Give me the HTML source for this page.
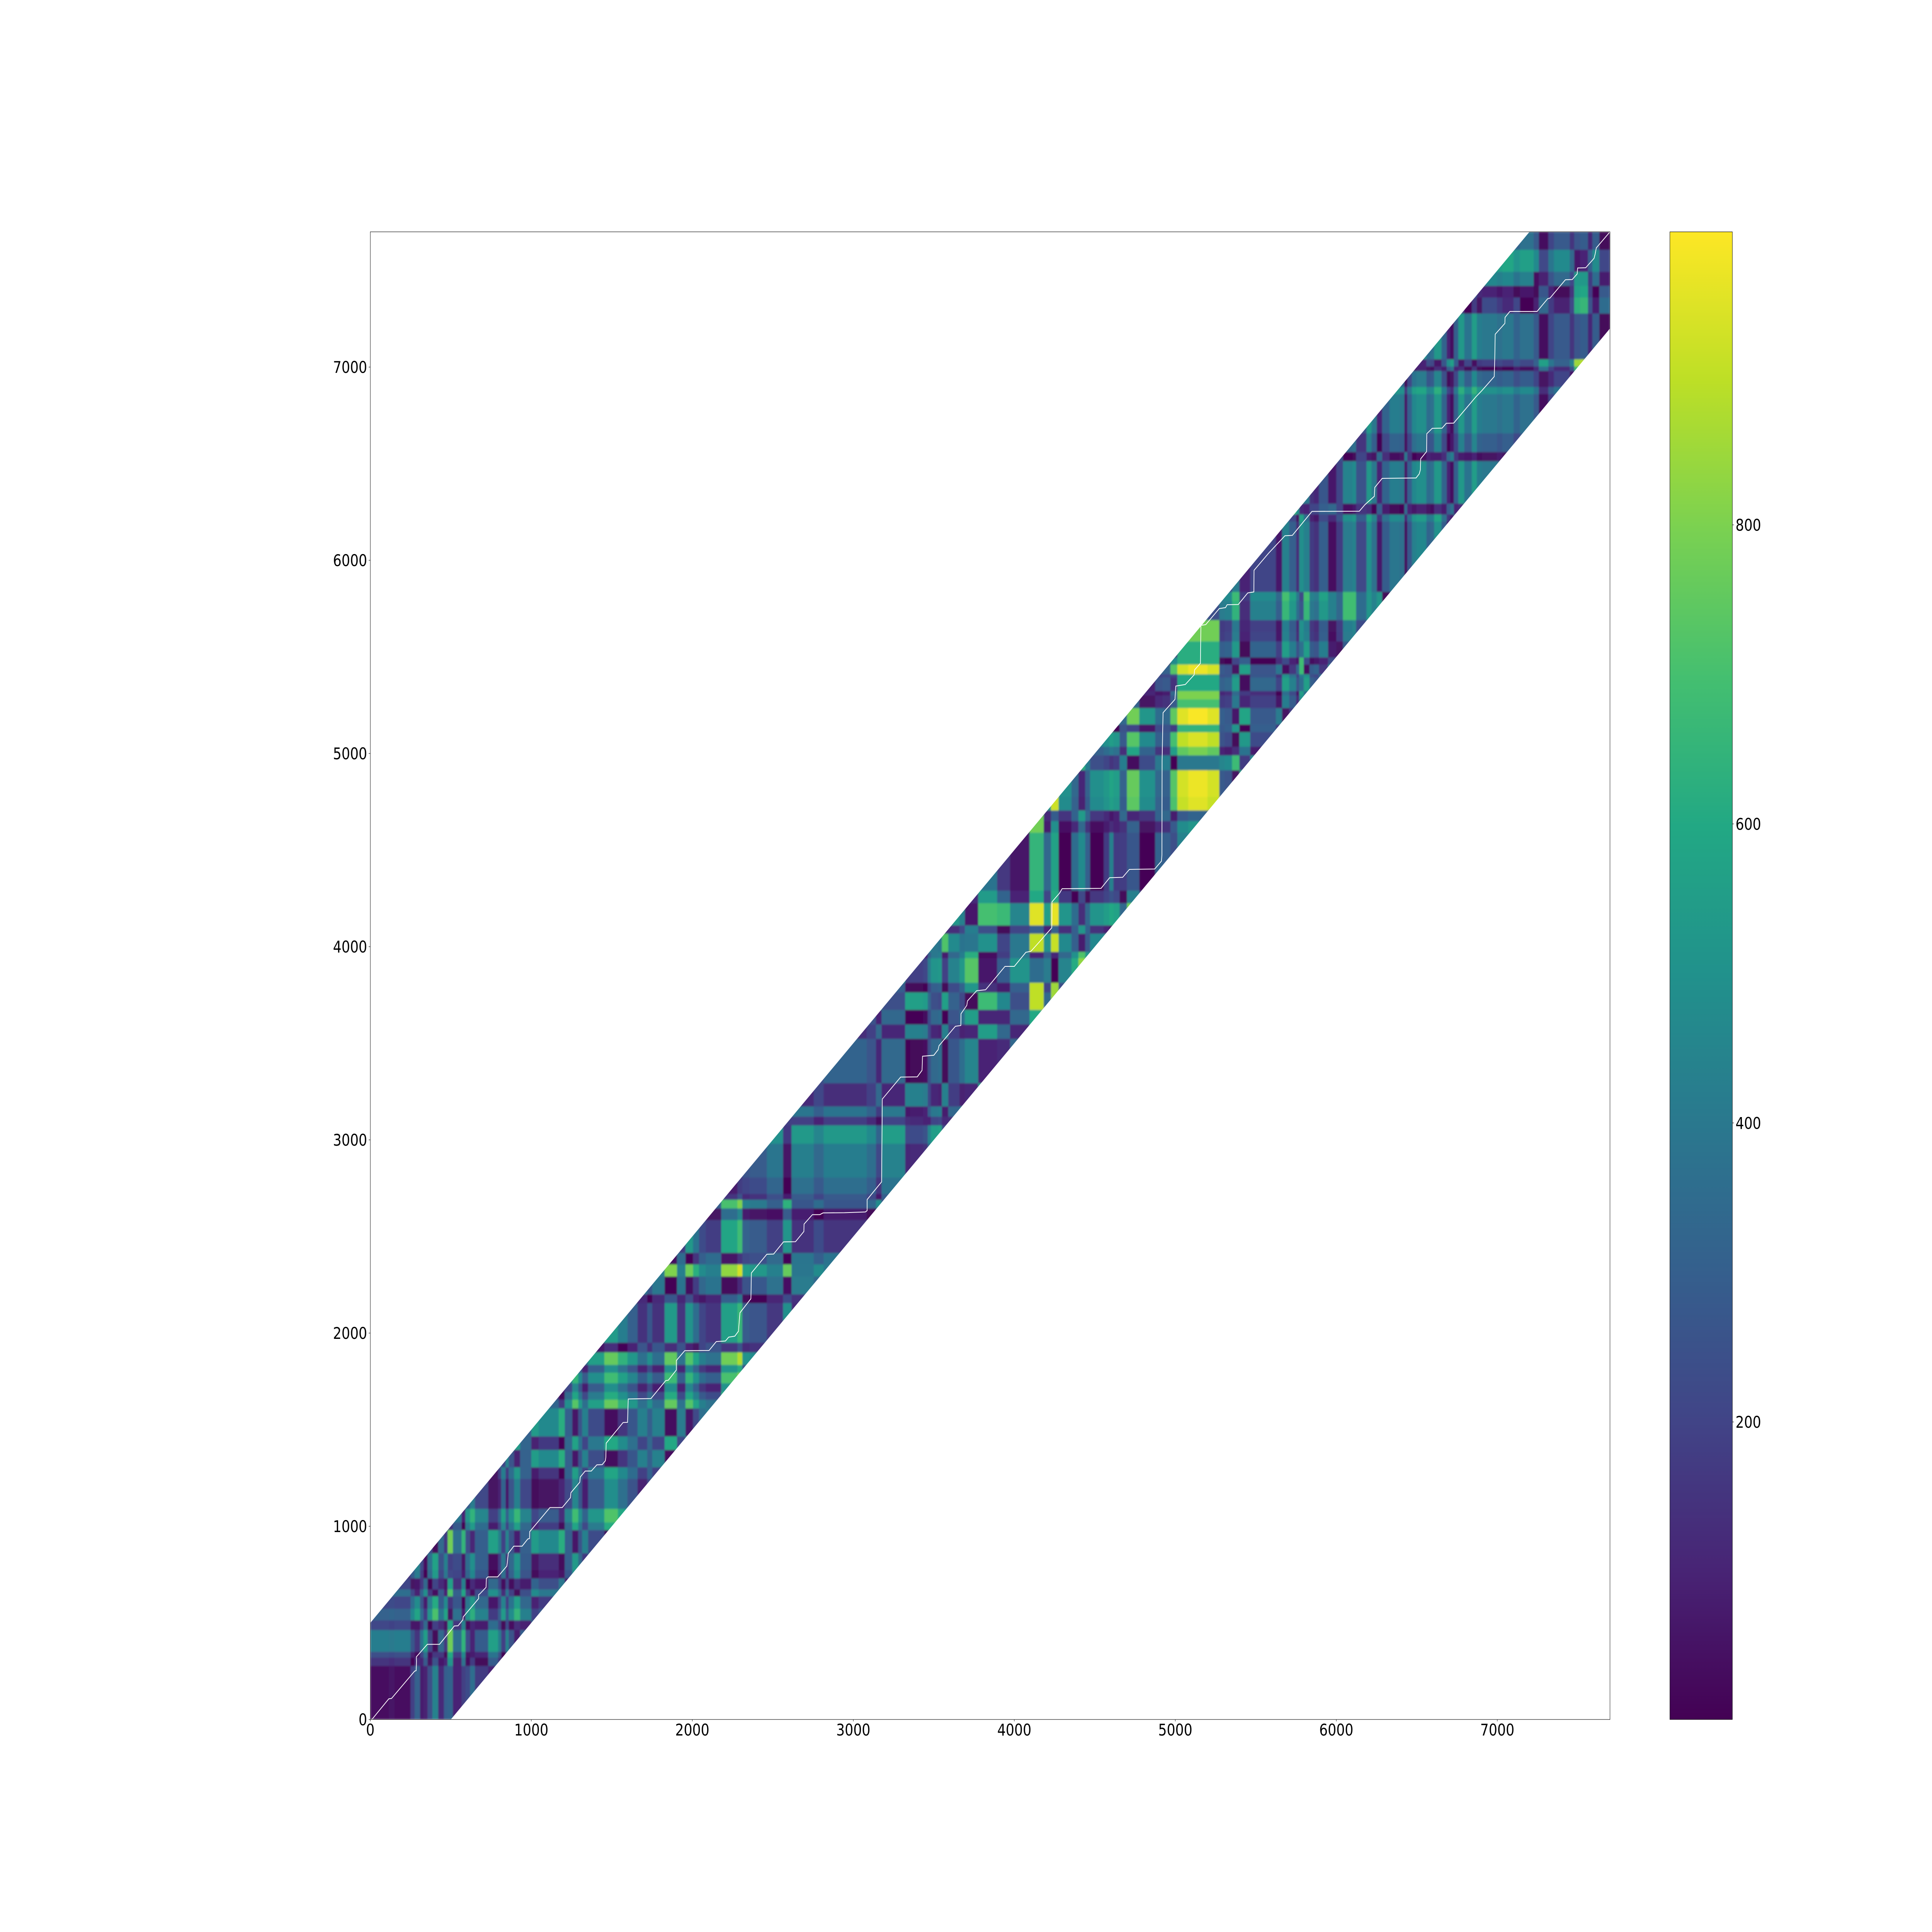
<!DOCTYPE html>
<html lang="en">
<head>
<meta charset="utf-8">
<title>Alignment cost matrix</title>
<style>
html,body{margin:0;padding:0;background:#fff;width:100%;height:100%;overflow:hidden}
svg{display:block;width:100vw;height:100vh}
text{font-family:"DejaVu Sans","Liberation Sans",sans-serif;font-size:41.67px;fill:#000}
</style>
</head>
<body>
<svg id="chart" xmlns="http://www.w3.org/2000/svg" viewBox="0 0 6000 5000" preserveAspectRatio="none">
<defs>
<linearGradient id="viridis-gradient" x1="0" y1="1" x2="0" y2="0"></linearGradient>
<clipPath id="band-clip"><polygon id="band-polygon" points=""></polygon></clipPath>
<filter id="soften" x="-2%" y="-2%" width="104%" height="104%"><feGaussianBlur stdDeviation="2"></feGaussianBlur></filter>
</defs>
<rect x="0" y="0" width="6000" height="5000" fill="#fff"></rect>
<g id="heatmap-clip-group" clip-path="url(#band-clip)"><g id="heatmap" filter="url(#soften)"></g></g>
<path id="warp-path" fill="none" stroke="#fff" stroke-width="2.1" stroke-linejoin="round"></path>
<rect id="plot-frame" fill="none" stroke="#000" stroke-width="1.1"></rect>
<g id="x-axis"></g>
<g id="y-axis"></g>
<rect id="colorbar" fill="url(#viridis-gradient)" stroke="#000" stroke-width="1.1"></rect>
<g id="colorbar-axis"></g>
</svg>
<script>
// ---- chart data ----
const xTicks = [0,1000,2000,3000,4000,5000,6000,7000];
const yTicks = [0,1000,2000,3000,4000,5000,6000,7000];
const colorbarTicks = [200,400,600,800];
const valueMin = 1;
const valueMax = 996;
const axisMax = 7700;
const bandRadius = 500;

// feature signal along the x sequence: segment starts and levels
const colBreaks = [0,115,150,250,275,309,330,355,385,421,457,480,513,567,591,620,650,732,793,813,840,860,893,930,1000,1045,1170,1208,1254,1292,1315,1353,1453,1537,1598,1660,1720,1751,1828,1905,1958,2004,2042,2084,2180,2280,2310,2356,2463,2563,2616,2754,2815,3083,3141,3175,3322,3353,3433,3462,3481,3527,3550,3590,3659,3693,3775,3893,3973,4095,4182,4228,4275,4355,4398,4440,4470,4555,4590,4615,4654,4700,4776,4875,4920,4970,5013,5080,5200,5273,5307,5352,5398,5465,5625,5663,5708,5751,5770,5797,5833,5861,5892,5949,6000,6041,6101,6123,6188,6219,6251,6285,6330,6393,6423,6441,6469,6497,6560,6585,6608,6653,6685,6707,6730,6757,6795,6842,6873,6905,6998,7031,7101,7140,7225,7258,7317,7351,7450,7477,7513,7563,7590,7633];
const colSignal = [40,55,40,190,310,80,-90,240,440,120,300,-320,100,-185,225,360,170,-100,40,270,20,210,380,160,-75,0,-155,165,405,215,35,235,435,315,200,40,165,35,430,50,400,250,100,50,455,555,180,155,55,385,15,100,20,80,230,0,330,320,300,100,0,-20,320,70,-20,-220,440,220,0,500,100,510,65,-100,-320,-120,60,100,150,120,-120,330,70,-100,-120,300,500,540,500,-150,-170,-380,130,-170,-40,-400,-270,-100,520,-400,-140,-110,-270,70,200,440,470,250,530,400,100,320,420,400,60,300,460,490,350,370,530,320,100,30,300,530,380,550,420,400,370,400,320,370,280,30,200,280,150,-260,-290,110,290,20];

// feature signal along the y sequence: segment starts and levels
const rowBreaks = [0,277,320,350,463,513,573,637,673,730,773,860,980,1020,1090,1245,1305,1395,1465,1610,1655,1695,1740,1795,1835,1900,1950,2155,2200,2293,2355,2415,2585,2645,2690,2720,2805,2980,3075,3120,3173,3293,3523,3597,3673,3763,3813,3940,3973,4067,4110,4225,4290,4590,4650,4705,4775,4913,4990,5035,5110,5150,5235,5280,5300,5323,5393,5410,5460,5497,5580,5630,5690,5790,5836,6200,6237,6293,6513,6560,6657,6860,6897,6980,7003,7040,7277,7360,7420,7493,7607];
const rowSignal = [0,190,280,460,250,-270,-170,400,240,-100,-130,465,-180,-285,-50,-150,470,-165,465,-325,-180,-50,-250,-60,-325,300,-105,160,430,-375,400,-130,100,-250,300,380,440,550,200,400,-110,340,-110,330,-240,300,510,400,-400,200,-450,-100,60,20,220,-410,-430,300,-250,-400,130,-450,20,20,-40,160,100,-430,-170,150,30,20,260,300,30,-50,400,0,450,100,0,-100,80,400,590,0,370,300,-60,-190,0];

// blocks read directly where the two signals alone do not reproduce the colour
const patchX0 = [4095,4095,3775,3353,3693,3775,3893,3693,3775,4095,4228,4095,4095,5013,5013,5013,5013,5013,5013,5013,5013,5949,6000,6041,6123,6188,6219,6251,7477,7225,4182,4228,4355,4398,4440,4555,4590,4615,4875,4920,6905,6998,7031,7101,5797,5833,5861,5892,5770,3693];
const patchX1 = [4182,4182,3893,3433,3775,3893,3973,3775,3893,4182,4275,4182,4182,5273,5273,5273,5273,5273,5273,5273,5273,6000,6041,6123,6188,6219,6251,6285,7563,7258,4228,4275,4398,4440,4470,4590,4615,4654,4920,4970,6998,7031,7101,7140,5833,5861,5892,5949,5797,3775];
const patchY0 = [4290,4590,3460,3460,3973,3973,3973,4110,4110,3673,3700,3813,3597,4913,5110,5235,5280,5323,5580,5460,5460,5690,5690,5690,5690,5690,5690,5690,7420,7420,4290,4290,4290,4290,4290,4290,4290,4290,4290,4290,7277,7277,7277,7277,6237,6237,6237,6237,5410,3293];
const patchY1 = [4590,4680,3523,3523,4067,4067,4067,4225,4225,3813,3813,3940,3673,4990,5150,5280,5323,5410,5690,5497,5580,5836,5836,5836,5836,5836,5836,5836,7493,7493,4590,4590,4590,4590,4590,4590,4590,4590,4590,4590,7360,7360,7360,7360,6293,6293,6293,6293,5460,3523];
const patchValue = [650,780,480,270,390,500,200,70,700,900,850,350,600,400,640,700,800,600,780,620,620,430,330,690,350,520,440,520,530,40,330,570,350,470,300,170,430,170,320,300,230,170,120,210,100,200,200,300,680,450];

// warping path
const pathX = [0,10,115,132,275,285,287,286,354,430,522,545,575,577,673,673,680,719,721,730,791,848,851,857,891,943,978,989,990,1116,1192,1243,1246,1301,1304,1335,1373,1407,1440,1460,1463,1465,1570,1598,1602,1743,1835,1851,1901,1901,1953,2104,2149,2206,2226,2264,2287,2290,2296,2364,2367,2463,2505,2566,2641,2693,2694,2746,2792,2812,2945,3075,3086,3086,3176,3180,3294,3397,3427,3430,3500,3527,3532,3634,3668,3669,3705,3709,3766,3822,3942,4000,4072,4103,4156,4233,4234,4282,4297,4539,4592,4673,4715,4872,4914,4917,4918,4924,4998,5003,5062,5117,5120,5156,5159,5189,5273,5312,5322,5391,5450,5488,5489,5581,5681,5727,5849,6143,6178,6236,6239,6285,6495,6515,6522,6524,6561,6562,6596,6657,6683,6729,6867,6904,6981,6984,6987,7047,7048,7078,7247,7313,7327,7423,7465,7496,7499,7549,7601,7608,7615,7700];
const pathY = [0,0,107,109,250,253,300,324,389,389,484,485,516,531,626,646,650,684,730,738,738,794,811,860,897,897,934,937,972,1097,1097,1148,1174,1228,1255,1286,1286,1318,1319,1339,1358,1430,1537,1538,1659,1661,1754,1756,1809,1858,1909,1910,1956,1959,1979,1984,2010,2045,2105,2178,2311,2408,2409,2472,2473,2526,2564,2613,2613,2622,2623,2627,2634,2691,2783,3211,3325,3326,3360,3433,3438,3467,3487,3588,3592,3653,3696,3719,3772,3777,3898,3898,3971,3976,4025,4098,4232,4278,4300,4302,4357,4359,4400,4402,4443,4477,4966,5211,5280,5349,5357,5407,5433,5467,5663,5667,5750,5755,5770,5771,5831,5836,5948,6038,6127,6129,6253,6254,6288,6331,6377,6424,6426,6447,6468,6525,6563,6655,6683,6684,6709,6710,6846,6878,6951,7035,7170,7226,7257,7288,7288,7354,7357,7452,7453,7482,7513,7514,7563,7586,7617,7700];

// viridis colour stops
const viridis = ['#440154','#482475','#414487','#355f8d','#2a788e','#21918c','#22a884','#44bf70','#7ad151','#bddf26','#fde725'];

// ---- layout ----
const plotLeft = 1150, plotRight = 5000, plotTop = 600, plotBottom = 4450;
const barLeft = 5186, barRight = 5380;
const SVGNS = 'http://www.w3.org/2000/svg';
const sx = v => plotLeft + (v / axisMax) * (plotRight - plotLeft);
const sy = v => plotBottom - (v / axisMax) * (plotBottom - plotTop);
const sc = v => plotBottom - ((v - valueMin) / (valueMax - valueMin)) * (plotBottom - plotTop);

function hexRgb(h){return [parseInt(h.slice(1,3),16),parseInt(h.slice(3,5),16),parseInt(h.slice(5,7),16)];}
function colorFor(v){
  let t = (v - valueMin) / (valueMax - valueMin);
  t = Math.max(0, Math.min(1, t));
  const p = t * (viridis.length - 1);
  const i = Math.min(viridis.length - 2, Math.floor(p));
  const f = p - i;
  const a = hexRgb(viridis[i]), b = hexRgb(viridis[i + 1]);
  return 'rgb(' + Math.round(a[0] + (b[0] - a[0]) * f) + ',' + Math.round(a[1] + (b[1] - a[1]) * f) + ',' + Math.round(a[2] + (b[2] - a[2]) * f) + ')';
}
function mk(tag, parent){
  const el = document.createElementNS(SVGNS, tag);
  parent.appendChild(el);
  return el;
}

// band clip
document.getElementById('band-polygon').setAttribute('points', [
  [0, bandRadius], [axisMax - bandRadius, axisMax], [axisMax, axisMax],
  [axisMax, axisMax - bandRadius], [bandRadius, 0], [0, 0]
].map(p => sx(p[0]) + ',' + sy(p[1])).join(' '));

// heatmap cells
const heat = document.getElementById('heatmap');
function patchAt(cx, cy){
  for (let k = 0; k < patchValue.length; k++) {
    if (cx >= patchX0[k] && cx < patchX1[k] && cy >= patchY0[k] && cy < patchY1[k]) return patchValue[k];
  }
  return null;
}
function segEnd(breaks, i){ return i + 1 < breaks.length ? breaks[i + 1] : axisMax; }
for (let r = 0; r < rowBreaks.length; r++) {
  const y0 = rowBreaks[r], y1 = segEnd(rowBreaks, r);
  for (let c = 0; c < colBreaks.length; c++) {
    const x0 = colBreaks[c], x1 = segEnd(colBreaks, c);
    if (x1 < y0 - bandRadius - 20 || x0 > y1 + bandRadius + 20) continue;
    const patched = patchAt((x0 + x1) / 2, (y0 + y1) / 2);
    const value = patched !== null ? patched : Math.abs(colSignal[c] - rowSignal[r]);
    const cell = mk('rect', heat);
    
    
    cell.setAttribute('x', sx(x0));
    cell.setAttribute('y', sy(y1));
    cell.setAttribute('width', sx(x1) - sx(x0));
    cell.setAttribute('height', sy(y0) - sy(y1));
    cell.setAttribute('fill', colorFor(value));
    cell.setAttribute('shape-rendering', 'crispEdges');
  }
}

// warping path
document.getElementById('warp-path').setAttribute('d',
  pathX.map((x, i) => (i ? 'L' : 'M') + sx(x).toFixed(1) + ' ' + sy(pathY[i]).toFixed(1)).join(''));

// frame
const frame = document.getElementById('plot-frame');
frame.setAttribute('x', plotLeft);
frame.setAttribute('y', plotTop);
frame.setAttribute('width', plotRight - plotLeft);
frame.setAttribute('height', plotBottom - plotTop);

// x axis
const xAxis = document.getElementById('x-axis');
xTicks.forEach(t => {
  const line = mk('line', xAxis);
  
  
  line.setAttribute('x1', sx(t));
  line.setAttribute('x2', sx(t));
  line.setAttribute('y1', plotBottom);
  line.setAttribute('y2', plotBottom + 4.9);
  line.setAttribute('stroke', '#000');
  line.setAttribute('stroke-width', '1.1');
  const label = mk('text', xAxis);
  
  
  label.setAttribute('x', sx(t));
  label.setAttribute('y', plotBottom + 41.5);
  label.setAttribute('text-anchor', 'middle');
  label.textContent = t;
});

// y axis
const yAxis = document.getElementById('y-axis');
yTicks.forEach(t => {
  const line = mk('line', yAxis);
  
  
  line.setAttribute('x1', plotLeft - 4.9);
  line.setAttribute('x2', plotLeft);
  line.setAttribute('y1', sy(t));
  line.setAttribute('y2', sy(t));
  line.setAttribute('stroke', '#000');
  line.setAttribute('stroke-width', '1.1');
  const label = mk('text', yAxis);
  
  
  label.setAttribute('x', plotLeft - 9.8);
  label.setAttribute('y', sy(t) + 15.2);
  label.setAttribute('text-anchor', 'end');
  label.textContent = t;
});

// colorbar
const grad = document.getElementById('viridis-gradient');
viridis.forEach((col, i) => {
  const stop = mk('stop', grad);
  stop.setAttribute('offset', i / (viridis.length - 1));
  stop.setAttribute('stop-color', col);
});
const bar = document.getElementById('colorbar');
bar.setAttribute('x', barLeft);
bar.setAttribute('y', plotTop);
bar.setAttribute('width', barRight - barLeft);
bar.setAttribute('height', plotBottom - plotTop);
const barAxis = document.getElementById('colorbar-axis');
colorbarTicks.forEach(t => {
  const line = mk('line', barAxis);
  
  
  line.setAttribute('x1', barRight);
  line.setAttribute('x2', barRight + 4.9);
  line.setAttribute('y1', sc(t));
  line.setAttribute('y2', sc(t));
  line.setAttribute('stroke', '#000');
  line.setAttribute('stroke-width', '1.1');
  const label = mk('text', barAxis);
  
  
  label.setAttribute('x', barRight + 9.8);
  label.setAttribute('y', sc(t) + 15.2);
  label.textContent = t;
});
</script>
</body>
</html>
